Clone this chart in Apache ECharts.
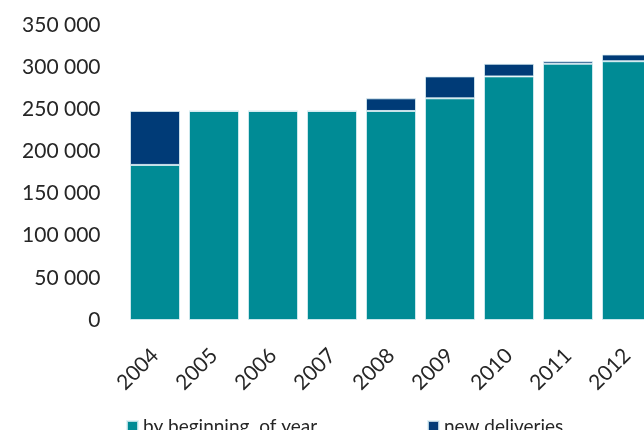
<!DOCTYPE html>
<html>
<head>
<meta charset="utf-8">
<script src="https://cdn.jsdelivr.net/npm/echarts@6/dist/echarts.min.js"></script>
<style>
  html, body { margin: 0; padding: 0; background: #fff; }
  #chart { width: 644px; height: 430px; }
</style>
</head>
<body>
<div id="chart"></div>
<script>
// data
var years = ["2004", "2005", "2006", "2007", "2008", "2009", "2010", "2011", "2012"];
var beginningOfYear = [184000, 248000, 248000, 248000, 248000, 263000, 289000, 304000, 307000];
var newDeliveries = [64000, 0, 0, 0, 15000, 26000, 15000, 3000, 8000];

var chart = echarts.init(document.getElementById("chart"));

var font = "Lato, 'Open Sans', sans-serif";

function spaced(v) {
  // 250000 -> "250 000"
  return String(v).replace(/\B(?=(\d{3})+(?!\d))/g, " ");
}

var option = {
  animation: false,
  color: ["#008b95", "#003b77"],
  textStyle: { fontFamily: font },
  // last bar runs past the right edge of the picture
  grid: {
    left: 125.5,
    width: 531,
    top: 25,
    bottom: 110,
    containLabel: false,
    outerBoundsMode: "none"
  },
  legend: [
    {
      data: ["by beginning  of year"],
      left: 121,
      top: 412,
      icon: "rect",
      itemWidth: 11,
      itemHeight: 11,
      itemGap: 5,
      textStyle: { fontSize: 19, color: "#262626", fontFamily: font }
    },
    {
      data: ["new deliveries"],
      left: 422,
      top: 412,
      icon: "rect",
      itemWidth: 11,
      itemHeight: 11,
      textStyle: { fontSize: 19, color: "#262626", fontFamily: font }
    }
  ],
  xAxis: {
    type: "category",
    data: years,
    axisLine: { show: false },
    axisTick: { show: false },
    axisLabel: {
      rotate: 45,
      margin: 32,
      fontSize: 21,
      color: "#262626",
      fontFamily: font
    }
  },
  yAxis: {
    type: "value",
    min: 0,
    max: 350000,
    interval: 50000,
    splitLine: { show: false },
    axisLine: { show: false },
    axisTick: { show: false },
    axisLabel: {
      margin: 25,
      fontSize: 21,
      color: "#262626",
      fontFamily: font,
      formatter: spaced
    }
  },
  series: [
    {
      name: "by beginning  of year",
      type: "bar",
      stack: "total",
      barWidth: 50,
      data: beginningOfYear,
      itemStyle: { borderColor: "rgba(220,240,245,0.8)", borderWidth: 1 }
    },
    {
      name: "new deliveries",
      type: "bar",
      stack: "total",
      barWidth: 50,
      data: newDeliveries,
      itemStyle: { borderColor: "rgba(220,240,245,0.8)", borderWidth: 1 }
    }
  ]
};

chart.setOption(option);
</script>
</body>
</html>
